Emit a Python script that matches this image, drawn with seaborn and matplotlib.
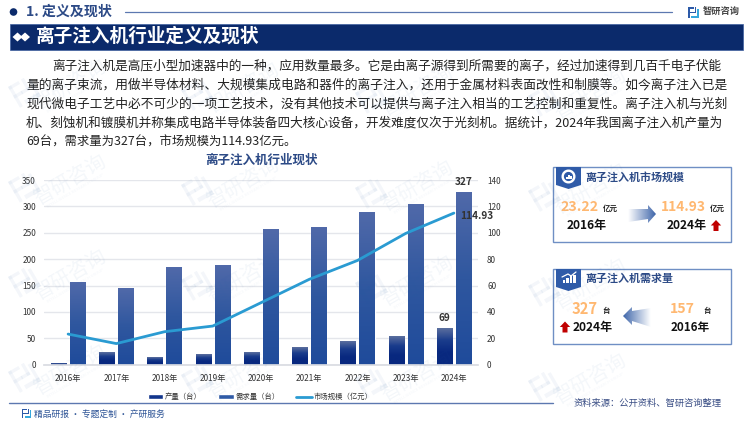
import numpy as np
import pandas as pd
import matplotlib
matplotlib.use("Agg")
import matplotlib.pyplot as plt
import seaborn as sns
from matplotlib.patches import Polygon, Rectangle, Circle, Patch, Wedge
from matplotlib.lines import Line2D
from matplotlib.colors import LinearSegmentedColormap
from matplotlib.transforms import Affine2D

years = ["2016年", "2017年", "2018年", "2019年", "2020年", "2021年", "2022年", "2023年", "2024年"]
production = [3, 23, 14, 19, 24, 34, 44, 54, 69]
demand = [157, 145, 185, 189, 256, 261, 289, 305, 327]
market = [23.22, 16, 25, 29.3, 47, 64.7, 79, 99.5, 114.93]
left_ticks = [0, 50, 100, 150, 200, 250, 300, 350]
right_ticks = [0, 20, 40, 60, 80, 100, 120, 140]
body_lines = [
    "离子注入机是高压小型加速器中的一种，应用数量最多。它是由离子源得到所需要的离子，经过加速得到几百千电子伏能",
    "量的离子束流，用做半导体材料、大规模集成电路和器件的离子注入，还用于金属材料表面改性和制膜等。如今离子注入已是",
    "现代微电子工艺中必不可少的一项工艺技术，没有其他技术可以提供与离子注入相当的工艺控制和重复性。离子注入机与光刻",
    "机、刻蚀机和镀膜机并称集成电路半导体装备四大核心设备，开发难度仅次于光刻机。据统计，2024年我国离子注入机产量为",
    "69台，需求量为327台，市场规模为114.93亿元。",
]

sns.set_theme(style="white")
plt.rcParams["font.family"] = ["Noto Sans CJK SC", "DejaVu Sans"]
plt.rcParams["axes.unicode_minus"] = False

W, H = 750, 421
NAVY = "#0B2A6B"
BLUE = "#2F5BA8"
ORANGE = "#FFB871"
TITLE = "#2C4A86"

fig = plt.figure(figsize=(7.5, 4.21), dpi=100, facecolor="white")
bg = fig.add_axes([0, 0, 1, 1], zorder=0)
bg.set_xlim(0, W); bg.set_ylim(H, 0); bg.axis("off")
fg = fig.add_axes([0, 0, 1, 1], zorder=10)
fg.set_xlim(0, W); fg.set_ylim(H, 0); fg.axis("off"); fg.patch.set_alpha(0)
renderer = fig.canvas.get_renderer()


def fit(axx, x0, x1, y, s, size, **kw):
    """Text spanning pixels x0..x1, centred vertically on y."""
    t = axx.text(x0, y, s, fontsize=size, ha="left", va="center", **kw)
    w = t.get_window_extent(renderer).width
    t.set_fontsize(size * (x1 - x0) / w)
    return t


def logo(axx, x, y, s, color, alpha=1.0, angle=0.0, zorder=3):
    tr = Affine2D().scale(s).rotate_deg(angle).translate(x, y) + axx.transData
    rects = [(0, 0, 0.5, 0.14), (0, 0, 0.14, 1.0), (0, 0.42, 0.42, 0.14),
             (0.62, 0, 0.14, 0.55), (0.36, 0.42, 0.4, 0.14), (0.3, 0.82, 0.7, 0.18), (0.86, 0.15, 0.14, 0.85)]
    for i, (a, b, c, d) in enumerate(rects):
        col = "#35A7DC" if (i >= 5 and alpha == 1.0) else color
        axx.add_patch(Rectangle((a, b), c, d, fc=col, ec="none", alpha=alpha, transform=tr, zorder=zorder))


def grad_poly(axx, pts, c0, c1, horizontal=True):
    cmap = LinearSegmentedColormap.from_list("g", [c0, c1])
    xs, ys = zip(*pts)
    g = np.linspace(0, 1, 64)
    g = g[None, :] if horizontal else g[:, None]
    im = axx.imshow(g, cmap=cmap, extent=(min(xs), max(xs), max(ys), min(ys)), aspect="auto", zorder=3)
    p = Polygon(pts, fc="none", ec="none", transform=axx.transData)
    axx.add_patch(p)
    im.set_clip_path(p)
    axx.set_xlim(0, W); axx.set_ylim(H, 0)


# ---- page furniture
bg.add_patch(Circle((13.5, 12), 3.8, fc=NAVY, ec="none"))
fit(bg, 26, 112, 12, "1. 定义及现状", 9, color=TITLE, fontweight="bold")
bg.plot([125, 672], [11.5, 11.5], color="#5C78B0", lw=0.9)
logo(bg, 688, 7, 11, "#2C5AA8")
fit(bg, 703, 740, 11, "智研咨询", 7, color="#444444", fontweight="bold")
bg.add_patch(Rectangle((9.5, 24), 733, 25.5, fc=NAVY, ec="#3F5F9F", lw=0.5))
for cx in (17.5, 25):
    bg.add_patch(Polygon([(cx - 5, 37), (cx, 32.5), (cx + 5, 37), (cx, 41.5)], fc="white", ec="none"))
fit(bg, 36, 260, 36, "离子注入机行业定义及现状", 13.4, color="white", fontweight="bold")

starts = [52, 26, 26, 26, 26]
ends = [724, 724, 724, 724, 296]
ys = [66, 85, 104, 123, 142]
for s, x0, x1, y in zip(body_lines, starts, ends, ys):
    fit(bg, x0, x1, y, s, 9.1, color="#222222")

fit(bg, 205, 318, 160.5, "离子注入机行业现状", 9, color=TITLE, fontweight="bold")

bg.plot([9, 553], [403, 403], color="#5C78B0", lw=1)
logo(bg, 22, 409, 9, "#2C5AA8")
fit(bg, 34, 165, 414, "精品研报 · 专题定制 · 产研服务", 7.2, color="#2F5597")
fit(bg, 574, 724, 403, "资料来源：公开资料、智研咨询整理", 6.8, color="#3A4E85")

# ---- main chart
ax = fig.add_axes([44 / W, (H - 364.7) / H, 434 / W, 184.7 / H], zorder=2)
ax.patch.set_alpha(0)
df = pd.DataFrame({
    "年份": years * 2,
    "数量": production + demand,
    "类别": ["产量（台）"] * len(years) + ["需求量（台）"] * len(years),
})
sns.barplot(data=df, x="年份", y="数量", hue="类别", ax=ax, width=0.79, gap=0.2,
            dodge=True, legend=False, palette=["#0B2C85", "#2A55A5"], saturation=1)
n = len(years)
cm_prod = LinearSegmentedColormap.from_list("p", ["#5A6E9E", "#1A3C8C", "#08287F", "#08287F"])
cm_dem = LinearSegmentedColormap.from_list("d", ["#5069A9", "#2F579F", "#1F4B9B"])
bars = list(ax.patches)
for i, b in enumerate(bars):
    bb = b.get_bbox()
    cm = cm_prod if i < n else cm_dem
    im = ax.imshow(np.linspace(0, 1, 64)[:, None], cmap=cm, aspect="auto",
                   extent=(bb.x0, bb.x1, bb.y0, bb.y1), zorder=b.get_zorder() + 0.1)
ax.set_xlim(-0.5, n - 0.5)
ax.set_ylim(0, 350)
ax.set_yticks(left_ticks)
ax.set_xlabel(""); ax.set_ylabel("")
ax.grid(axis="y", color="#E4E6EB", lw=1)
ax.set_axisbelow(True)
for sp in ax.spines.values():
    sp.set_visible(False)
ax.spines["bottom"].set_visible(True)
ax.spines["bottom"].set_color("#D9DCE2")
ax.tick_params(axis="x", length=0, pad=7, labelsize=5.9, labelcolor="#333333")
ax.tick_params(axis="y", length=0, pad=5.8, labelsize=5.9, labelcolor="#333333")

ax2 = ax.twinx()
ax2.patch.set_alpha(0)
sns.lineplot(x=list(range(n)), y=market, ax=ax2, color="#2A9BD2", lw=2, legend=False,
             solid_capstyle="round")
ax2.set_ylim(0, 140)
ax2.set_xlim(-0.5, n - 0.5)
ax2.set_yticks(right_ticks)
ax2.set_ylabel("")
ax2.grid(False)
for sp in ax2.spines.values():
    sp.set_visible(False)
ax2.tick_params(axis="y", length=0, pad=6.5, labelsize=5.9, labelcolor="#333333")

lab = dict(fontsize=7.3, color="#333333", ha="center", va="bottom", fontweight="bold")
ax2.annotate(str(demand[-1]), (n - 1 + 0.197, demand[-1] / 350 * 140), xytext=(0, 3.5),
             textcoords="offset points", **lab)
ax2.annotate(str(production[-1]), (n - 1 - 0.197, production[-1] / 350 * 140), xytext=(0, 3.5),
             textcoords="offset points", **lab)
ax2.annotate(f"{market[-1]:.2f}", (n - 1, market[-1]), xytext=(16.5, -2),
             textcoords="offset points", fontsize=7.3, color="#333333", ha="center", va="center",
             fontweight="bold")

handles = [Patch(fc="#12358C", label="产量（台）"), Patch(fc="#2F5AA6", label="需求量（台）"),
           Line2D([0], [0], color="#2A9BD2", lw=2, label="市场规模（亿元）")]
fig.legend(handles=handles, ncol=3, loc="center", bbox_to_anchor=(260 / W, 1 - 397 / H),
           frameon=False, fontsize=5.3, handlelength=2.1, handleheight=0.6, handletextpad=0.2,
           columnspacing=2.3, labelcolor="#333333", borderpad=0, borderaxespad=0)


# ---- side panels
def panel(y0, title, x1):
    bg.add_patch(Rectangle((552.7, y0), 178, 75, fc="white", ec="#6F8FC4", lw=1, zorder=1))
    bg.add_patch(Polygon([(556, y0), (581, y0), (581, y0 + 18), (568.5, y0 + 22), (556, y0 + 18)],
                         fc=BLUE, ec="none", zorder=2))
    fit(bg, 585, x1, y0 + 10, title, 7.9, color=TITLE, fontweight="bold", zorder=3)


def up_arrow(cx, y0):
    bg.add_patch(Polygon([(cx - 5.2, y0 + 5.5), (cx, y0), (cx + 5.2, y0 + 5.5), (cx + 2.5, y0 + 5.5),
                          (cx + 2.5, y0 + 11), (cx - 2.5, y0 + 11), (cx - 2.5, y0 + 5.5)],
                         fc="#C00000", ec="none", zorder=3))


def val(x0, x1, y, s):
    fit(bg, x0, x1, y, s, 11, color=ORANGE, fontweight="bold", zorder=3)


def year(x0, x1, y, s):
    fit(bg, x0, x1, y, s, 9, color="#111111", fontweight="bold", zorder=3)


def unit(x0, x1, y, s):
    fit(bg, x0, x1, y, s, 5.4, color="#222222", fontweight="bold", zorder=3)


panel(167, "离子注入机市场规模", 684)
bg.add_patch(Wedge((568.5, 176.5), 7, 0, 360, width=2.4, fc="white", ec="none", zorder=3))
for dx, h in ((-2.5, 2.5), (-0.3, 4), (1.9, 3)):
    bg.add_patch(Rectangle((568.5 + dx, 179 - h), 1.5, h, fc="white", ec="none", zorder=3))
val(560, 598, 207, "23.22")
unit(603, 618, 208.5, "亿元")
year(567, 607, 226, "2016年")
grad_poly(bg, [(628, 209), (648, 209), (648, 205), (656, 214), (648, 223), (648, 219), (628, 222)],
          "#FFFFFF", "#3F66AA")
val(661, 706, 207, "114.93")
unit(710, 725, 208.5, "亿元")
year(667, 707, 226, "2024年")
up_arrow(716, 220)

panel(269, "离子注入机需求量", 673)
for dx, h in ((-6, 3), (-2.5, 5), (1, 7), (4.5, 8)):
    bg.add_patch(Rectangle((568.5 + dx, 283 - h), 2.5, h, fc="white", ec="none", zorder=3))
bg.plot([562, 568, 571, 576], [277, 274, 276, 272], color="white", lw=0.9, zorder=3)
val(572, 598, 309, "327")
unit(602.5, 610, 310.5, "台")
year(573, 613, 328, "2024年")
up_arrow(565, 321.5)
grad_poly(bg, [(651, 308), (632, 311), (632, 307), (623, 316), (632, 325), (632, 321), (651, 327)],
          "#3F66AA", "#FFFFFF")
val(670, 695, 309, "157")
unit(703, 710.5, 310.5, "台")
year(671, 710, 328, "2016年")

# ---- watermarks (only the ones that sit wholly inside the page)
for c, cx in enumerate((70, 243, 417, 590)):
    for r in range(0, 4):
        cy = 85 + 95 * r + 3 * c
        fg.text(cx, cy, "智研咨询", fontsize=14.5, rotation=30, ha="center", va="center",
                color="#2A62A8", alpha=0.05, rotation_mode="anchor", zorder=1)
        fg.text(cx + 6, cy + 11, "INTELLIGENCE RESEARCH GROUP", fontsize=3, rotation=30, ha="center",
                va="center", color="#2A62A8", alpha=0.05, rotation_mode="anchor", zorder=1)
        logo(fg, cx - 62, cy + 2, 24, "#2A62A8", alpha=0.05, angle=-30, zorder=1)

fig.savefig("out.png", dpi=100, facecolor="white")
